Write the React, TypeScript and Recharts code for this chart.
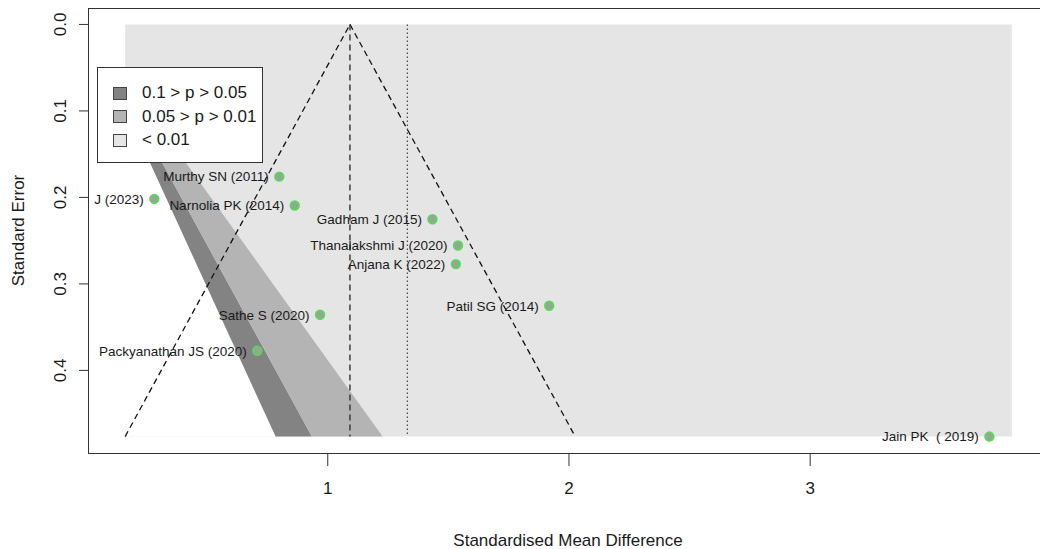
import {
  ComposedChart,
  Area,
  Scatter,
  XAxis,
  YAxis,
  ReferenceLine,
  LabelList,
} from "recharts";

// studies in the funnel plot
const studies = [
  "J (2023)",
  "Murthy SN (2011)",
  "Narnolia PK (2014)",
  "Gadham J (2015)",
  "Thanalakshmi J (2020)",
  "Anjana K (2022)",
  "Patil SG (2014)",
  "Sathe S (2020)",
  "Packyanathan JS (2020)",
  "Jain PK\u00a0 (\u00a02019)",
];
const smd = [0.281, 0.799, 0.863, 1.434, 1.54, 1.531, 1.918, 0.968, 0.708, 3.743];
const stdErr = [0.2017, 0.176, 0.2094, 0.2252, 0.2556, 0.2771, 0.3253, 0.3357, 0.3773, 0.4765];

const xTicks = [1, 2, 3];
const seTicks = [0, 0.1, 0.2, 0.3, 0.4];

// contour regions (x breakpoints and [top, bottom] SE range at each)
const bandX = [0.16, 0.7838, 0.9339, 1.2275, 3.836];
const grayBand = [[0, 0.4765], [0, 0.4765], [0, 0.4765], [0, 0.4765], [0, 0.4765]];
const whiteBand = [[0.0973, 0.4765], [0.4765, 0.4765], [0.4765, 0.4765], [0.4765, 0.4765], [0.4765, 0.4765]];
const darkBand = [[0.0816, 0.0973], [0.3999, 0.4765], [0.4765, 0.4765], [0.4765, 0.4765], [0.4765, 0.4765]];
const midBand = [[0.0621, 0.0816], [0.3043, 0.3999], [0.3625, 0.4765], [0.4765, 0.4765], [0.4765, 0.4765]];

const estimate = 1.092;
const otherEstimate = 1.33;
const funnelLow = 0.16;
const funnelHigh = 2.026;
const maxSE = 0.4765;

const legendItems = ["0.1 > p > 0.05", "0.05 > p > 0.01", "< 0.01"];
const legendColors = ["#838383", "#b4b4b4", "#e5e5e5"];

const bandData = bandX.map((x, i) => ({
  x,
  gray: grayBand[i],
  white: whiteBand[i],
  dark: darkBand[i],
  mid: midBand[i],
}));

const points = studies.map((name, i) => ({ name, x: smd[i], se: stdErr[i] }));

const font = "'Liberation Sans', Arial, sans-serif";

const YTick = ({ x, y, payload }: any) => (
  <text
    x={x - 11}
    y={y}
    transform={`rotate(-90 ${x - 11} ${y})`}
    textAnchor="middle"
    fontSize={17}
    fill="#1a1a1a"
    fontFamily={font}
  >
    {Number(payload.value).toFixed(1)}
  </text>
);

const Dot = ({ cx, cy }: any) => (
  <circle cx={cx} cy={cy} r={4.3} fill="#92a892" stroke="#5ad85a" strokeWidth={1.8} />
);

export default function App() {
  return (
    <div
      style={{
        position: "absolute",
        left: 0,
        top: 0,
        width: 1040,
        height: 549,
        overflow: "hidden",
        background: "#fff",
        fontFamily: font,
      }}
    >
      <ComposedChart
        width={1048}
        height={549}
        data={bandData}
        margin={{ top: 8, right: 0, bottom: 0, left: 0 }}
      >
        <XAxis
          dataKey="x"
          type="number"
          domain={[0.006, 3.986]}
          allowDataOverflow
          ticks={xTicks}
          height={96}
          tickSize={13}
          tickMargin={16}
          axisLine={false}
          tickLine={{ stroke: "#333" }}
          tick={{ fontSize: 17, fill: "#1a1a1a", fontFamily: font }}
          label={{
            value: "Standardised Mean Difference",
            position: "insideBottom",
            offset: 3,
            fontSize: 17,
            fill: "#1a1a1a",
            fontFamily: font,
          }}
        />
        <YAxis
          type="number"
          reversed
          domain={[-0.019, 0.4955]}
          allowDataOverflow
          ticks={seTicks}
          width={88}
          tickSize={9}
          axisLine={false}
          tickLine={{ stroke: "#333" }}
          tick={<YTick />}
          label={{
            value: "Standard Error",
            angle: -90,
            position: "center",
            dx: -26,
            fontSize: 17,
            fill: "#1a1a1a",
            fontFamily: font,
          }}
        />
        <Area dataKey="gray" type="linear" fill="#e5e5e5" fillOpacity={1} stroke="none" isAnimationActive={false} />
        <Area dataKey="white" type="linear" fill="#ffffff" fillOpacity={1} stroke="none" isAnimationActive={false} />
        <Area dataKey="dark" type="linear" fill={legendColors[0]} fillOpacity={1} stroke="none" isAnimationActive={false} />
        <Area dataKey="mid" type="linear" fill={legendColors[1]} fillOpacity={1} stroke="none" isAnimationActive={false} />
        <ReferenceLine
          segment={[{ x: funnelLow, y: maxSE }, { x: estimate, y: 0 }]}
          stroke="#111"
          strokeWidth={1.3}
          strokeDasharray="6 4"
        />
        <ReferenceLine
          segment={[{ x: estimate, y: 0 }, { x: funnelHigh, y: maxSE }]}
          stroke="#111"
          strokeWidth={1.3}
          strokeDasharray="6 4"
        />
        <ReferenceLine
          segment={[{ x: estimate, y: 0 }, { x: estimate, y: maxSE }]}
          stroke="#333"
          strokeWidth={1.4}
          strokeDasharray="6 4"
        />
        <ReferenceLine
          segment={[{ x: otherEstimate, y: 0 }, { x: otherEstimate, y: maxSE }]}
          stroke="#444"
          strokeWidth={1.2}
          strokeDasharray="1.5 2.5"
        />
        <Scatter data={points} dataKey="se" shape={<Dot />} isAnimationActive={false}>
          <LabelList
            dataKey="name"
            position="left"
            offset={6}
            fontSize={13.5}
            fill="#1a1a1a"
            fontFamily={font}
          />
        </Scatter>
      </ComposedChart>
      <div
        style={{
          position: "absolute",
          left: 88,
          top: 8,
          width: 980,
          height: 444,
          border: "1.5px solid #333",
          pointerEvents: "none",
        }}
      />
      <div
        style={{
          position: "absolute",
          left: 97,
          top: 67,
          width: 164,
          height: 94,
          border: "1.5px solid #333",
          background: "#fff",
        }}
      >
        {legendItems.map((label, i) => (
          <div
            key={label}
            style={{
              position: "absolute",
              left: 15,
              top: 14 + i * 23.5,
              display: "flex",
              alignItems: "center",
              height: 22,
            }}
          >
            <div
              style={{
                width: 12,
                height: 11,
                background: legendColors[i],
                border: "1px solid #444",
                marginRight: 15,
              }}
            />
            <span style={{ fontSize: 17, color: "#1a1a1a", lineHeight: "22px" }}>{label}</span>
          </div>
        ))}
      </div>
    </div>
  );
}
